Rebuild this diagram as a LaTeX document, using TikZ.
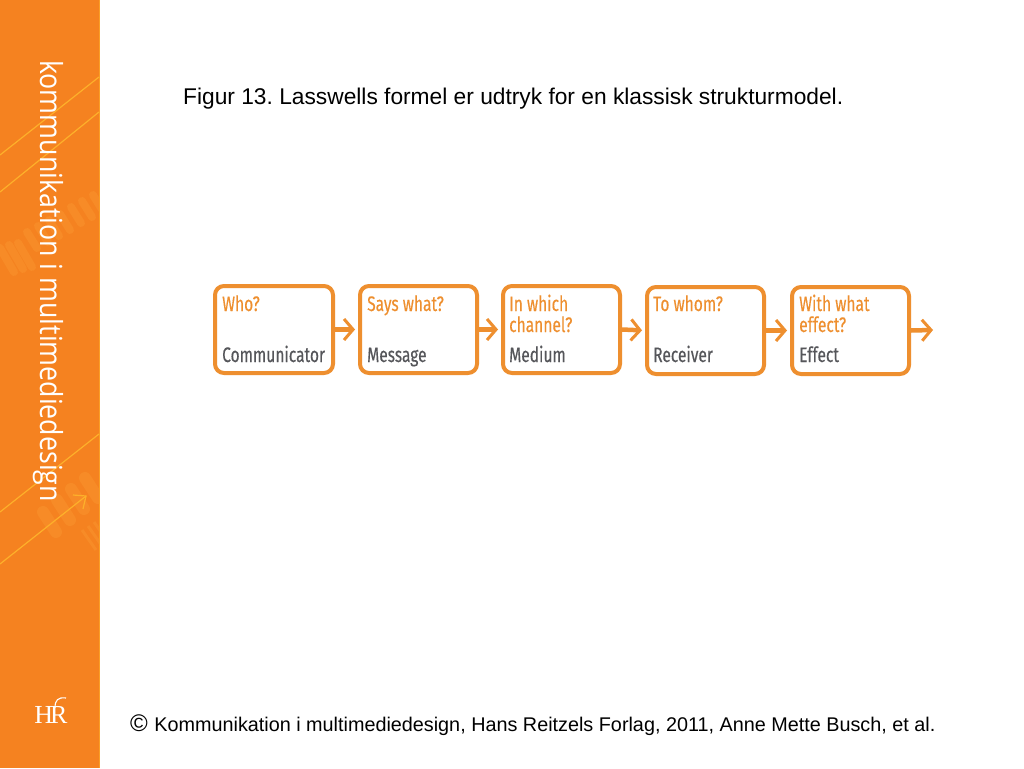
\documentclass[tikz,border=0pt]{standalone}
\usepackage{fontspec}
\setmainfont{Liberation Sans}
\newfontfamily\boxfont[FakeStretch=0.74,FakeBold=0.3]{Fira Sans}
\newfontfamily\sidefont[FakeStretch=0.88]{Open Sans}
\newfontfamily\logofont{Liberation Serif}
\usetikzlibrary{arrows.meta}
\definecolor{side}{HTML}{F58220}
\definecolor{sideline}{HTML}{FDB02A}
\definecolor{sidefaint}{HTML}{F78B27}
\definecolor{boxor}{HTML}{EE8F2F}
\definecolor{boxgr}{HTML}{55565A}
\tikzset{
 x=1pt,y=-1pt,
 lbox/.style={draw=boxor,line width=4pt,rounded corners=9pt,fill=white},
 ask/.style={anchor=base west,inner sep=0pt,text=boxor,font=\boxfont\fontsize{21}{23}\selectfont,align=left},
 ans/.style={anchor=base west,inner sep=0pt,text=boxgr,font=\boxfont\fontsize{21}{23}\selectfont},
 flow/.style={draw=boxor,line width=4.5pt,-{Straight Barb[length=9pt,width=21pt,line width=3pt]},shorten >=3pt},
 flowend/.style={flow,shorten >=0pt},
 captext/.style={anchor=base west,inner sep=0pt,text=black,font=\frenchspacing\fontsize{22.75}{26}\selectfont},
 foottext/.style={anchor=base west,inner sep=0pt,text=black,font=\frenchspacing\fontsize{19.8}{24}\selectfont},
 diag/.style={draw=sideline,line width=1.2pt},
 faint/.style={draw=sidefaint,line width=8pt,line cap=round},
 faintfat/.style={draw=sidefaint,line width=12pt,line cap=round},
 faintthin/.style={draw=sidefaint,line width=3pt}
}
\begin{document}
\begin{tikzpicture}
\useasboundingbox (0,0) rectangle (1024,768);
\fill[white] (0,0) rectangle (1024,768);
\fill[side] (0,0) rectangle (99,768);
\draw[sideline!60!side,line width=1pt] (99.5,0) -- (99.5,768);
% faint pattern
\begin{scope}
\clip (0,0) rectangle (99,768);
\foreach \a/\b in {0/248,9/245,18/243}{\draw[faint] (\a,\b) -- (\a+14,\b+24);}
\foreach \a/\b in {27/232,38/226,49/220,60/214,71/207,82/201,93/195}{\draw[faint] (\a,\b) -- (\a+10,\b+16);}
\foreach \a/\b in {43/512,57/500,71/489,85/478}{\draw[faintfat] (\a,\b) -- (\a+13,\b+20);}
\foreach \a/\b in {82/530,88/526,94/522}{\draw[faintthin] (\a,\b) -- (\a+14,\b+20);}
\end{scope}
% diagonals
\draw[diag] (0,155) -- (99,77);
\draw[diag] (0,192) -- (99,112);
\draw[diag] (0,512) -- (99,434);
\draw[diag] (0,564) -- (86,496);
\draw[diag] (73,495) -- (86,496) -- (83,509);
\node[rotate=-90,anchor=base west,inner sep=0pt,text=white,font=\sidefont\fontsize{30.4}{32}\selectfont] (sidetitle) at (40,60) {kommunikation i multimediedesign};
\node[text=white,inner sep=0pt,font=\logofont\fontsize{26}{26}\selectfont] (logo) at (51,715) {H\kern-3pt R};
\draw[white,line width=1.1pt] (55,708) .. controls (55,700) and (58,697) .. (66,698);
\node[captext] (title) at (183,104) {Figur 13. Lasswells formel er udtryk for en klassisk strukturmodel.};
\node[foottext] (foot) at (130,731) {\fontsize{24}{24}\selectfont©\fontsize{19.8}{24}\selectfont\kern1pt{} Kommunikation i multimediedesign, Hans Reitzels Forlag, 2011, Anne Mette Busch, et al.};
\foreach \n/\l/\r/\t/\b in {b1/215/333/286/373,b2/360/477/286/373,b3/503/620/286/373,b4/647/764/287/374,b5/792/909/287/374}{
 \node[lbox,minimum width=\r pt-\l pt,minimum height=\b pt-\t pt,inner sep=0pt] (\n) at ({(\l+\r)/2},{(\t+\b)/2}) {};
}
\coordinate (end) at (933,330);
\draw[flow] (b1.east) -- (b2.west);
\draw[flow] (b2.east) -- (b3.west);
\draw[flow] (b3.east) -- (b4.west);
\draw[flow] (b4.east) -- (b5.west);
\draw[flowend] (b5.east) -- (end);
\node[ask] (q1) at (222,311) {Who?};
\node[ask] (q2) at (367,311) {Says what?};
\node[ask] (q3) at (509,311) {In which};
\node[ask] (q3b) at (509,332) {channel?};
\node[ask] (q4) at (653,311) {To whom?};
\node[ask] (q5) at (799,311) {With what};
\node[ask] (q5b) at (799,332) {effect?};
\node[ans] (a1) at (222,362) {Communicator};
\node[ans] (a2) at (367,362) {Message};
\node[ans] (a3) at (509,362) {Medium};
\node[ans] (a4) at (653,362) {Receiver};
\node[ans] (a5) at (799,362) {Effect};
\end{tikzpicture}
\end{document}
